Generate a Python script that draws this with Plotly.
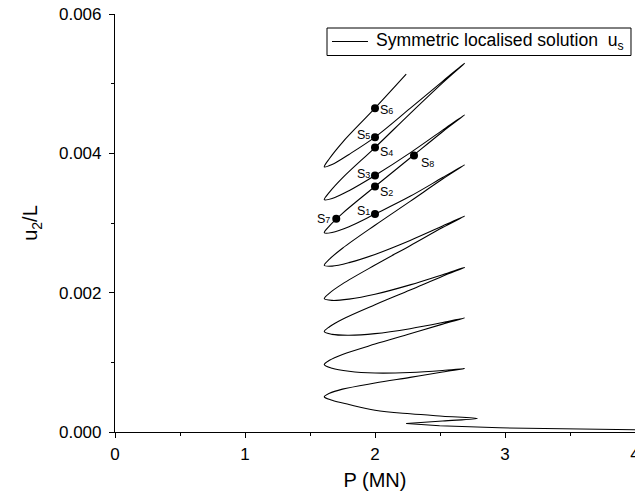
import plotly.graph_objects as go

# ---------------- data (P in MN, u2/L dimensionless) ----------------
# near-trivial branch, from large P leftwards to the first fold
p_trivial = [4.30, 4.00, 2.958, 2.497, 2.241]
u_trivial = [0.0272e-3, 0.0315e-3, 0.0602e-3, 0.0889e-3, 0.1219e-3]

# first fold -> first right-hand tip
p_start = [2.241, 2.52, 2.787]
u_start = [0.1219e-3, 0.1585e-3, 0.1935e-3]

# sample loads along the returning (tip -> nose) and rising (nose -> tip) branches
p_ret = [2.52, 2.27, 2.00, 1.80, 1.67, 1.61]
p_rise = [1.65, 1.75, 2.00, 2.27, 2.52, 2.69]

u_ret1 = [0.22652e-3, 0.26093e-3, 0.31254e-3, 0.39426e-3, 0.45591e-3, 0.50466e-3]
u_rise1 = [0.55570e-3, 0.61505e-3, 0.70279e-3, 0.78366e-3, 0.86122e-3, 0.91039e-3]
u_ret2 = [0.88172e-3, 0.85305e-3, 0.84588e-3, 0.87168e-3, 0.91469e-3, 0.96774e-3]
u_rise2 = [1.02867e-3, 1.11269e-3, 1.26193e-3, 1.40932e-3, 1.54867e-3, 1.63727e-3]
u_ret3 = [1.57061e-3, 1.48315e-3, 1.41219e-3, 1.38967e-3, 1.40171e-3, 1.44086e-3]
u_rise3 = [1.51111e-3, 1.61878e-3, 1.82709e-3, 2.03813e-3, 2.23641e-3, 2.36272e-3]
u_ret4 = [2.25835e-3, 2.11197e-3, 1.97720e-3, 1.90767e-3, 1.88889e-3, 1.91398e-3]
u_rise4 = [1.99412e-3, 2.12645e-3, 2.39627e-3, 2.67398e-3, 2.93390e-3, 3.09964e-3]
u_ret5 = [2.95641e-3, 2.74953e-3, 2.54924e-3, 2.43111e-3, 2.38093e-3, 2.39139e-3]
u_rise5 = [2.48129e-3, 2.63756e-3, 2.96788e-3, 3.31053e-3, 3.63082e-3, 3.83512e-3]
u_ret6 = [3.65204e-3, 3.38293e-3, 3.12830e-3, 2.94738e-3, 2.86465e-3, 2.86021e-3]
u_rise6 = [2.95928e-3, 3.13878e-3, 3.52400e-3, 3.93233e-3, 4.31053e-3, 4.55197e-3]
u_ret7 = [4.33247e-3, 4.00630e-3, 3.68170e-3, 3.46380e-3, 3.35140e-3, 3.33333e-3]
u_rise7 = [3.44243e-3, 3.64702e-3, 4.08320e-3, 4.57089e-3, 5.01161e-3, 5.29318e-3]
u_ret8 = [5.03369e-3, 4.64487e-3, 4.23220e-3, 3.98451e-3, 3.83957e-3, 3.80645e-3]

# final rising branch (ends inside the plot)
p_last = [1.65, 1.75, 2.00, 2.24]
u_last = [3.92659e-3, 4.15885e-3, 4.64800e-3, 5.13548e-3]

# marked solutions S1..S8
s_names = ["1", "2", "3", "4", "5", "6", "7", "8"]
s_p = [2.00, 2.00, 2.00, 2.00, 2.00, 2.00, 1.702, 2.30]
s_u = [3.1283e-3, 3.5240e-3, 3.6817e-3, 4.0832e-3, 4.2322e-3, 4.6480e-3, 3.0609e-3, 3.9680e-3]

legend_label = "Symmetric localised solution  u<sub>s</sub>"

# ---------------- assemble the continuous solution path ----------------
ret_list = [u_ret1, u_ret2, u_ret3, u_ret4, u_ret5, u_ret6, u_ret7, u_ret8]
rise_list = [u_rise1, u_rise2, u_rise3, u_rise4, u_rise5, u_rise6, u_rise7]

px_path = list(p_start)
uy_path = list(u_start)
for k in range(8):
    px_path += p_ret
    uy_path += ret_list[k]
    if k < 7:
        px_path += p_rise
        uy_path += rise_list[k]
px_path += p_last
uy_path += u_last

FONT = "Arial, Liberation Sans, sans-serif"

fig = go.Figure()
fig.add_trace(go.Scatter(
    x=p_trivial, y=u_trivial, mode="lines",
    line=dict(color="black", width=1.1), showlegend=False, hoverinfo="skip"))
fig.add_trace(go.Scatter(
    x=px_path, y=uy_path, mode="lines",
    line=dict(color="black", width=1.1, shape="spline", smoothing=1.0),
    name=legend_label, showlegend=False))
fig.add_trace(go.Scatter(
    x=s_p, y=s_u, mode="markers",
    marker=dict(color="black", size=8), showlegend=False, hoverinfo="skip"))

# label placement (anchor side, x shift px, y shift px)
lab_style = [("right", -4, 3), ("left", 4, -6), ("right", -4, 2), ("left", 4, -4),
             ("right", -4, 2), ("left", 4, -2), ("right", -5, 0), ("left", 6, -7)]
for name, x, y, (anc, dx, dy) in zip(s_names, s_p, s_u, lab_style):
    fig.add_annotation(
        x=x, y=y, xref="x", yref="y", showarrow=False,
        text='S<span style="font-size:9px">' + name + '</span>',
        font=dict(family=FONT, size=12.5, color="black"),
        xanchor=anc, yanchor="middle", xshift=dx, yshift=dy, borderpad=0)

# legend box drawn in paper coordinates
fig.add_shape(type="rect", xref="paper", yref="paper",
              x0=0.4077, x1=0.9923, y0=0.9007, y1=0.9665,
              line=dict(color="black", width=1), fillcolor="white", layer="above")
fig.add_shape(type="line", xref="paper", yref="paper",
              x0=0.4173, x1=0.4865, y0=0.9342, y1=0.9342,
              line=dict(color="black", width=1.1), layer="above")
fig.add_annotation(x=0.5, y=0.9342, xref="paper", yref="paper", showarrow=False,
                   text=legend_label, xanchor="left", yanchor="middle", borderpad=0,
                   font=dict(family=FONT, size=17.6, color="black"))

axis_common = dict(
    showline=True, linecolor="black", linewidth=1.2, mirror=False,
    ticks="outside", ticklen=5, tickwidth=1.2, tickcolor="black",
    showgrid=False, zeroline=False, ticklabeloverflow="allow", automargin=False,
    tickfont=dict(family=FONT, size=17, color="black"),
)

fig.update_xaxes(
    range=[0, 4], tickvals=[0, 1, 2, 3, 4], ticklabelstandoff=1,
    minor=dict(ticks="outside", ticklen=3, tickwidth=1.2, tickcolor="black",
               tick0=0, dtick=0.5, showgrid=False),
    title=dict(text="P (MN)", font=dict(family=FONT, size=20, color="black"), standoff=10),
    **axis_common)
fig.update_yaxes(
    range=[0, 0.006], tickvals=[0, 0.002, 0.004, 0.006], tickformat=".3f",
    ticklabelstandoff=4,
    minor=dict(ticks="outside", ticklen=3, tickwidth=1.2, tickcolor="black",
               tick0=0, dtick=0.001, showgrid=False),
    title=dict(text="u<sub>2</sub>/L", font=dict(family=FONT, size=20, color="black")),
    **axis_common)

fig.update_layout(
    width=635, height=502,
    margin=dict(l=115, r=0, t=14, b=70),
    paper_bgcolor="white", plot_bgcolor="white",
    font=dict(family=FONT, size=17, color="black"),
    showlegend=False,
)

fig.write_html("out.html")
